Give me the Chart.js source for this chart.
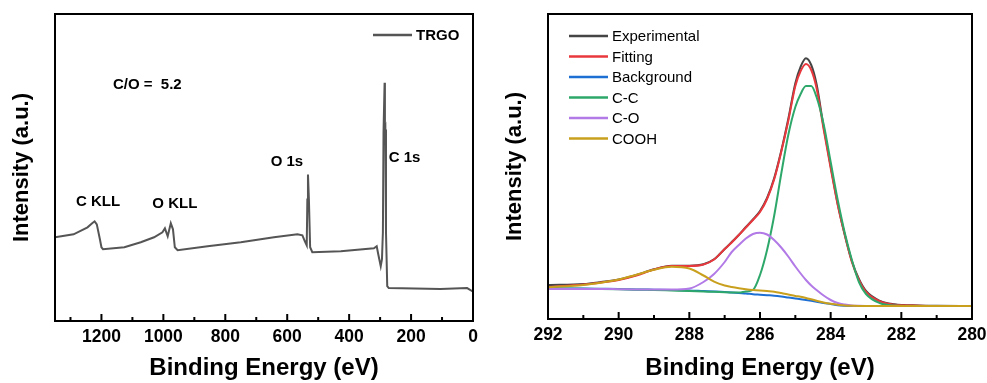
<!DOCTYPE html>
<html>
<head>
<meta charset="utf-8">
<script src="https://cdn.jsdelivr.net/npm/chart.js@4.4.1/dist/chart.umd.min.js"></script>
<style>
  body { margin: 0; background: #fff; width: 987px; height: 383px; overflow: hidden; }
  #wrap { display: flex; }
  canvas { display: block; }
</style>
</head>
<body>
<div id="wrap">
  <canvas id="survey" width="493" height="383"></canvas>
  <canvas id="c1s" width="494" height="383"></canvas>
</div>
<script>
// --- survey scan (left) ---
const surveyEnergy = [1350, 1290, 1245, 1230, 1222, 1215, 1205, 1200, 1195, 1126, 1073, 1030, 1003, 995, 986, 976, 969, 963, 954,
  857, 750, 643, 567, 551, 543, 537, 535, 533, 530, 526, 519, 427, 320, 311, 306, 298, 294, 291, 289, 285.5, 284.5, 283, 281,
  277, 272, 105, 19, 3, 0];
const surveyIntensity = [84, 87, 94, 98, 100, 97, 82, 74, 72, 74, 79, 84, 89, 93, 85, 98, 92, 74, 71,
  75, 79, 84, 87, 86, 80, 76, 122, 147, 122, 74, 69, 70, 73, 75, 67, 55, 62, 89, 189, 239, 190, 192, 89,
  35, 33, 32, 33, 30, 30];
const surveyMajor = [1200, 1000, 800, 600, 400, 200, 0];
const surveyMinor = [1300, 1100, 900, 700, 500, 300, 100];
const surveyNotes = [
  { text: 'C/O =  5.2', ev: 1163, y: 237, align: 'left' },
  { text: 'C KLL', ev: 1211, y: 120, align: 'center' },
  { text: 'O KLL', ev: 963, y: 118, align: 'center' },
  { text: 'O 1s', ev: 601, y: 160, align: 'center' },
  { text: 'C 1s', ev: 221, y: 164, align: 'center' }
];

// --- C 1s high resolution (right) ---
const c1sEnergy = [292, 291, 290.5, 290, 289.5, 289, 288.5, 288, 287.6, 287.3, 287, 286.8, 286.6, 286.4, 286.2, 286, 285.8, 285.6,
  285.4, 285.2, 285, 284.85, 284.7, 284.55, 284.4, 284.2, 284, 283.8, 283.6, 283.4, 283.2, 283, 282.6, 282.2, 281.5, 281, 280];
const experimental = [34, 35, 37, 39.5, 44, 49.7, 53.3, 53.3, 54.7, 59.7, 70, 77, 84, 92, 99.5, 108, 121, 140.7,
  168, 200, 235.7, 252.3, 260.7, 254, 235, 192.3, 153, 115, 84, 58, 40, 28, 18, 14.7, 13.5, 13.2, 13];
const fitting = [32, 34.5, 36.5, 39, 43.5, 49.5, 53, 53, 54.5, 59.5, 70, 76.5, 84, 91.5, 99, 107, 120, 139.5,
  167, 198, 233, 248, 255, 249, 231, 190, 151, 114, 84, 57, 39, 27, 17.5, 14.3, 13.3, 13.1, 13];
const background = [30.7, 30.4, 30.2, 30, 29.6, 29.3, 29, 28.6, 28, 27.6, 27.1, 26.6, 26, 25.5, 24.8, 24.3, 23.8, 23.3,
  22.5, 21.5, 20.5, 19.8, 19, 18.2, 17.3, 16, 15, 13.8, 13.3, 13.1, 13, 13, 13, 13, 13, 13, 13];
const peakCC = [30.5, 30.2, 30, 29.7, 29.3, 29, 28.5, 28, 27.5, 27.2, 26.8, 26.5, 26.5, 27.5, 29, 44, 69, 103,
  145, 184, 212, 225, 233, 233, 222, 195, 157, 119, 86, 59, 37, 25, 15.7, 13.5, 13, 13, 13];
const peakCO = [30, 30, 30, 29.8, 29.6, 29.5, 29.5, 30.5, 37, 45, 57, 67, 74, 80.5, 85, 86.3, 84.5, 79,
  71.5, 62.5, 52.5, 45.5, 39, 33.5, 29, 23.5, 19, 16, 14.5, 13.6, 13.3, 13.1, 13, 13, 13, 13, 13];
const peakCOOH = [31.7, 34, 36.3, 39.5, 44.3, 49.2, 52.2, 50.5, 43.5, 37.3, 33.5, 32, 30.8, 29.8, 29, 28.4, 27.9, 27.3,
  26, 24.5, 23, 22.3, 21, 19.7, 18.3, 16.5, 15.2, 14.3, 13.5, 13.2, 13, 13, 13, 13, 13, 13, 13];
const c1sMajor = [292, 290, 288, 286, 284, 282, 280];
const c1sMinor = [291, 289, 287, 285, 283, 281];

const FONT = "'Liberation Sans', Arial, sans-serif";

const pts = (xs, ys) => xs.map((x, i) => ({ x: x, y: ys[i] }));

// box frame and inward ticks on the bottom axis
const framePlugin = {
  id: 'frame',
  afterDatasetsDraw(chart, args, opts) {
    const { ctx, chartArea: a } = chart;
    const x = chart.scales.x;
    ctx.save();
    ctx.strokeStyle = '#000';
    ctx.lineWidth = 2;
    ctx.beginPath();
    opts.major.forEach(v => { const p = x.getPixelForValue(v); ctx.moveTo(p, a.bottom); ctx.lineTo(p, a.bottom - 7); });
    opts.minor.forEach(v => { const p = x.getPixelForValue(v); ctx.moveTo(p, a.bottom); ctx.lineTo(p, a.bottom - 4); });
    ctx.stroke();
    ctx.strokeRect(a.left, a.top, a.width, a.height);
    ctx.restore();
  }
};

// legend drawn inside the plot area
const boxLegend = {
  id: 'boxLegend',
  afterDraw(chart, args, opts) {
    const { ctx, chartArea: a } = chart;
    ctx.save();
    ctx.font = opts.font;
    ctx.textBaseline = 'middle';
    ctx.textAlign = 'left';
    chart.data.datasets.forEach((ds, i) => {
      const y = a.top + opts.top + i * opts.step;
      const x0 = a.left + opts.left;
      ctx.strokeStyle = ds.borderColor;
      ctx.lineWidth = 2.5;
      ctx.beginPath();
      ctx.moveTo(x0, y);
      ctx.lineTo(x0 + 39, y);
      ctx.stroke();
      ctx.fillStyle = '#000';
      ctx.fillText(ds.label, x0 + 43, y + 1);
    });
    ctx.restore();
  }
};

// peak labels placed at data coordinates
const notesPlugin = {
  id: 'notes',
  afterDraw(chart, args, opts) {
    const { ctx } = chart;
    const { x, y } = chart.scales;
    ctx.save();
    ctx.font = 'bold 15px ' + FONT;
    ctx.fillStyle = '#000';
    ctx.textBaseline = 'middle';
    opts.items.forEach(n => {
      ctx.textAlign = n.align;
      ctx.fillText(n.text, x.getPixelForValue(n.ev), y.getPixelForValue(n.y));
    });
    ctx.restore();
  }
};

function axes(xMin, xMax, yMax, major, xHeight) {
  return {
    x: {
      type: 'linear', reverse: true, min: xMin, max: xMax,
      afterBuildTicks: s => { s.ticks = major.map(v => ({ value: v })); },
      afterFit: s => { s.height = xHeight; s.paddingLeft = 0; s.paddingRight = 0; },
      grid: { display: false, drawTicks: false },
      border: { display: false },
      ticks: { color: '#000', padding: 6, maxRotation: 0, autoSkip: false, callback: v => String(v),
        font: { family: FONT, size: 17.5, weight: 'bold' } },
      title: { display: true, text: 'Binding Energy (eV)', color: '#000', padding: { top: 0, bottom: 0 },
        font: { family: FONT, size: 24, weight: 'bold' } }
    },
    y: {
      min: 0, max: yMax,
      afterFit: s => { s.width = 55; },
      grid: { display: false, drawTicks: false },
      border: { display: false },
      ticks: { display: false },
      title: { display: true, text: 'Intensity (a.u.)', color: '#000', padding: { top: 9, bottom: 0 },
        font: { family: FONT, size: 22, weight: 'bold' } }
    }
  };
}

new Chart(document.getElementById('survey'), {
  type: 'line',
  data: {
    datasets: [{
      label: 'TRGO', data: pts(surveyEnergy, surveyIntensity),
      borderColor: '#555555', borderWidth: 2, pointRadius: 0, tension: 0
    }]
  },
  options: {
    responsive: false, animation: false,
    layout: { padding: { top: 14, right: 20, left: 0, bottom: 0 } },
    scales: axes(0, 1350, 308, surveyMajor, 62),
    plugins: {
      legend: { display: false }, tooltip: { enabled: false },
      frame: { major: surveyMajor, minor: surveyMinor },
      boxLegend: { top: 21, left: 318, step: 20, font: 'bold 15px ' + FONT },
      notes: { items: surveyNotes }
    }
  },
  plugins: [framePlugin, boxLegend, notesPlugin]
});

const c1sSeries = [
  { label: 'Experimental', values: experimental, color: '#454545' },
  { label: 'Fitting', values: fitting, color: '#e8383d' },
  { label: 'Background', values: background, color: '#1e6fd4' },
  { label: 'C-C', values: peakCC, color: '#2ea86a' },
  { label: 'C-O', values: peakCO, color: '#b27ae6' },
  { label: 'COOH', values: peakCOOH, color: '#c9a01e' }
];

new Chart(document.getElementById('c1s'), {
  type: 'line',
  data: {
    datasets: c1sSeries.map((s, i) => ({
      label: s.label, data: pts(c1sEnergy, s.values),
      borderColor: s.color, borderWidth: 2, pointRadius: 0,
      cubicInterpolationMode: 'monotone', order: c1sSeries.length - i
    }))
  },
  options: {
    responsive: false, animation: false,
    layout: { padding: { top: 14, right: 15, left: 0, bottom: 0 } },
    scales: axes(280, 292, 305, c1sMajor, 64),
    plugins: {
      legend: { display: false }, tooltip: { enabled: false },
      frame: { major: c1sMajor, minor: c1sMinor },
      boxLegend: { top: 22, left: 21, step: 20.5, font: '15px ' + FONT }
    }
  },
  plugins: [framePlugin, boxLegend]
});
</script>
</body>
</html>
